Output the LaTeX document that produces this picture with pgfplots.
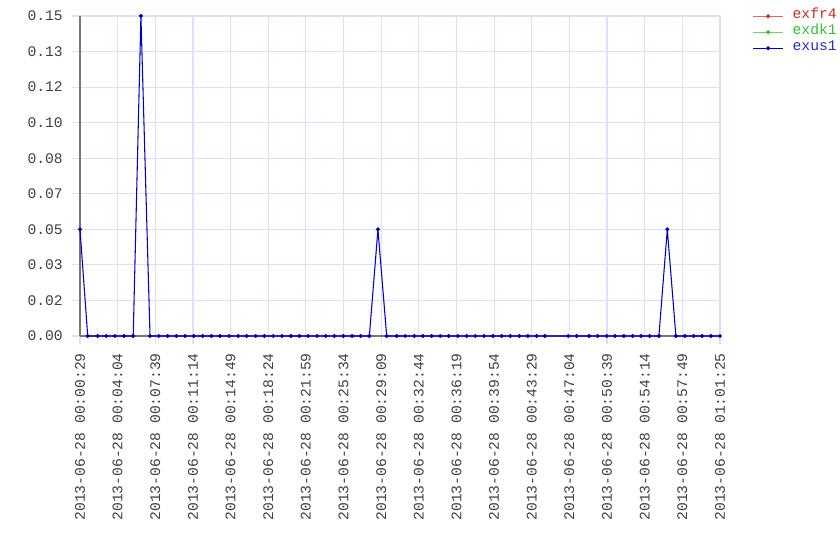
\documentclass[border=0pt]{standalone}
\usepackage{pgfplots}
\pgfplotsset{compat=1.18}
\usepackage{fontspec}
\setmainfont{Liberation Mono}
\usepackage{xcolor}
\definecolor{gridc}{RGB}{222,222,255}
\definecolor{axisc}{RGB}{118,118,118}
\definecolor{serR}{RGB}{214,40,40}
\definecolor{serG}{RGB}{40,200,40}
\definecolor{serB}{RGB}{0,0,200}
\definecolor{txtR}{RGB}{204,40,40}
\definecolor{txtG}{RGB}{50,190,50}
\definecolor{txtB}{RGB}{40,40,200}

\begin{document}
\begin{tikzpicture}
\useasboundingbox (-60pt,-168pt) rectangle (570pt,252pt);
\begin{axis}[
    scale only axis, width=480pt, height=240pt,
    xmin=29, xmax=3685, ymin=0, ymax=0.15,
    clip=false,
    axis x line=bottom, axis y line=left,
    axis line style={axisc, line width=1.2pt, -},
    grid=major, grid style={gridc, line width=0.9pt},
    tick align=outside, major tick length=6pt,
    major tick style={gridc, line width=0.9pt},
    xtick={29,244.06,459.12,674.18,889.24,1104.29,1319.35,1534.41,1749.47,1964.53,2179.59,2394.65,2609.71,2824.76,3039.82,3254.88,3469.94,3685},
    xticklabels={2013-06-28 00:00:29,2013-06-28 00:04:04,2013-06-28 00:07:39,2013-06-28 00:11:14,2013-06-28 00:14:49,2013-06-28 00:18:24,2013-06-28 00:21:59,2013-06-28 00:25:34,2013-06-28 00:29:09,2013-06-28 00:32:44,2013-06-28 00:36:19,2013-06-28 00:39:54,2013-06-28 00:43:29,2013-06-28 00:47:04,2013-06-28 00:50:39,2013-06-28 00:54:14,2013-06-28 00:57:49,2013-06-28 01:01:25},
    ytick={0,0.016667,0.033333,0.05,0.066667,0.083333,0.1,0.116667,0.133333,0.15},
    yticklabels={0.00,0.02,0.03,0.05,0.07,0.08,0.10,0.12,0.13,0.15},
    tick label style={font=\fontsize{11}{13}\selectfont, color=black!75, inner sep=0pt},
    xticklabel style={rotate=90, anchor=east},
    yticklabel style={anchor=east},
    xticklabel shift=6.75pt, yticklabel shift=6.75pt,
    legend style={at={(1.05,1.025)}, anchor=north west, draw=none, fill=none,
      font=\fontsize{11}{13}\selectfont, inner sep=0pt,
      nodes={inner sep=0pt, text height=8pt, text depth=4pt},
      /tikz/column sep=6.5pt},
    legend cell align=left,
    legend image code/.code={\draw[mark repeat=2,mark phase=2,#1] plot coordinates {(0pt,0pt) (11.5pt,0pt) (23pt,0pt)};},
]
\addlegendimage{serR!70, line width=0.8pt, mark=*, mark size=1.1pt, mark options={fill=serR, draw=serR}}
\addlegendentry{\textcolor{txtR}{exfr4}}
\addlegendimage{serG!70, line width=0.8pt, mark=*, mark size=1.1pt, mark options={fill=serG, draw=serG}}
\addlegendentry{\textcolor{txtG}{exdk1}}
\addplot[serB, line width=0.8pt, mark=*, mark size=1.1pt, mark options={fill=serB, draw=serB}]
  coordinates {
  (29,0.05)(73,0)(130,0)(179,0)(229,0)(280,0)(333,0)(377,0.15)(429,0)(479,0)
  (530,0)(579,0)(629,0)(679,0)(730,0)(779,0)(829,0)(880,0)(933,0)(981,0)
  (1033,0)(1082,0)(1133,0)(1183,0)(1234,0)(1282,0)(1333,0)(1383,0)(1433,0)(1482,0)
  (1533,0)(1583,0)(1632,0)(1682,0)(1731,0.05)(1781,0)(1838,0)(1887,0)(1939,0)(1988,0)
  (2038,0)(2087,0)(2135,0)(2187,0)(2238,0)(2287,0)(2337,0)(2387,0)(2438,0)(2487,0)
  (2539,0)(2587,0)(2638,0)(2685,0)(2818,0)(2866,0)(2937,0)(2986,0)(3038,0)(3085,0)
  (3136,0)(3186,0)(3234,0)(3283,0)(3336,0)(3384,0.05)(3433,0)(3484,0)(3534,0)(3583,0)
  (3633,0)(3685,0)
  };
\addlegendentry{\textcolor{txtB}{exus1}}
\end{axis}
\end{tikzpicture}
\end{document}
